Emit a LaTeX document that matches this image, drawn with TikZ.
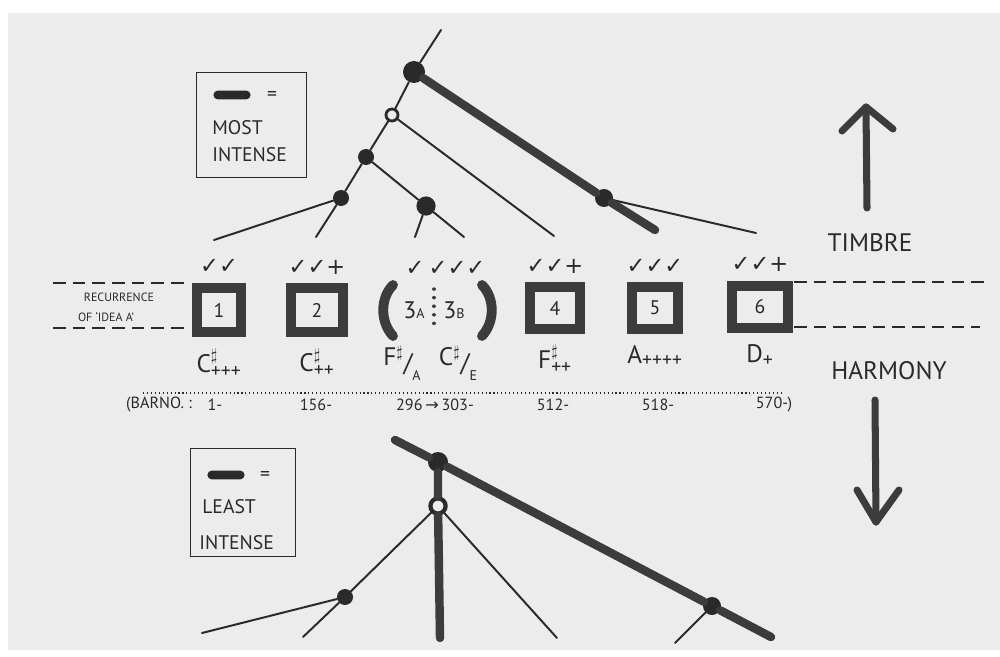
\documentclass[tikz,border=0pt]{standalone}
\usepackage{fontspec}
\setmainfont{PT Sans}
\newfontfamily\ticks{DejaVu Sans}
\usetikzlibrary{positioning}
\definecolor{paper}{HTML}{ECECEC}
\definecolor{ink}{HTML}{2A2A2A}
\definecolor{marker}{HTML}{3C3C3C}
\tikzset{
  twig/.style   = {draw=ink, line width=1.4pt, line cap=round},
  branch/.style = {draw=marker, line width=6pt, line cap=round},
  dot/.style    = {circle, fill=ink, inner sep=0pt, minimum size=0.4cm},
  ring/.style   = {circle, draw=ink, fill=paper, line width=2pt, inner sep=0pt, minimum size=0.3cm},
  idea/.style   = {draw=marker, line width=0.25cm, minimum width=1.25cm, minimum height=1.1cm,
                   inner sep=0pt, text=ink, font=\fontsize{14}{14}\selectfont},
  legend/.style = {draw=ink, line width=1.2pt, minimum width=2.75cm, minimum height=2.62cm},
  pill/.style   = {fill=ink, rounded corners=0.11cm, minimum width=0.93cm, minimum height=0.22cm, inner sep=0pt},
  hand/.style   = {text=ink, inner sep=0pt, font=\fontsize{14}{16}\selectfont},
  big/.style    = {text=ink, inner sep=0pt, font=\fontsize{18}{20}\selectfont},
  small/.style  = {text=ink, inner sep=0pt, font=\fontsize{8.5}{10}\selectfont},
  tick/.style   = {text=ink, inner sep=0pt, font=\ticks\fontsize{16}{17}\selectfont},
  chord/.style  = {text=ink, inner sep=0pt, font=\fontsize{18}{20}\selectfont},
  bar/.style    = {text=ink, inner sep=0pt, font=\fontsize{11.5}{13}\selectfont},
  guide/.style  = {draw=ink, line width=0.9pt, dash pattern=on 9pt off 5pt},
  arrowline/.style = {draw=marker, line width=5pt, line cap=round, line join=round}
}
\newcommand{\pl}[1]{\hbox{\fontsize{14}{14}\selectfont #1}}

\begin{document}
\begin{tikzpicture}
[x=0.025cm, y=-0.025cm]

% paper
\fill[white] (0,0) rectangle (1000,657);
\fill[paper] (8,13) rectangle (1000,650);
\useasboundingbox (0,0) rectangle (1000,657);

% legend, most intense
\node[legend] (lg1) at (251.5,125) {};
\node[pill] (lg1p) at (232,95) {};
\node[hand] (lg1e) at (272,96) {=};
\node[hand, anchor=west] (lg1a) at (212,128) {MOST};
\node[hand, anchor=west] (lg1b) at (212,155) {INTENSE};

% legend, least intense
\node[legend, minimum width=2.62cm, minimum height=2.7cm] (lg2) at (243,502.5) {};
\node[pill] (lg2p) at (226,475) {};
\node[hand] (lg2e) at (265,476) {=};
\node[hand, anchor=west] (lg2a) at (202,507) {LEAST};
\node[hand, anchor=west] (lg2b) at (199,543) {INTENSE};

% timbre tree, top
\coordinate (t0) at (441,30);
\node[dot, minimum size=0.55cm] (t1) at (414,72) {};
\node[ring] (t2) at (392,115) {};
\node[dot] (t3) at (366,157) {};
\node[dot] (t4) at (341,198) {};
\node[dot, minimum size=0.48cm] (t5) at (426,206) {};
\node[dot, minimum size=0.45cm] (t6) at (604,198) {};
\coordinate (t41) at (214,240);
\coordinate (t42) at (316,237);
\coordinate (t51) at (415,237);
\coordinate (t52) at (464,237);
\coordinate (t21) at (554,236);
\coordinate (t61) at (655,230);
\coordinate (t62) at (756,233);

\draw[twig] (t0) -- (t1) -- (t2) -- (t3) -- (t4) -- (t42);
\draw[twig] (t4) -- (t41);
\draw[twig] (t3) -- (t5) -- (t52);
\draw[twig] (t5) -- (t51);
\draw[twig] (t2) -- (t21);
\draw[twig] (t6) -- (t62);
\draw[branch] (t1) -- (t6) -- (t61);

% harmony tree, bottom
\coordinate (h0) at (395,440);
\node[dot, minimum size=0.5cm] (h1) at (438,462) {};
\node[ring, minimum size=0.38cm, line width=3pt] (h2) at (438,506) {};
\node[dot] (h3) at (345,597) {};
\node[dot, minimum size=0.45cm] (h4) at (712,606) {};
\coordinate (h11) at (771,637);
\coordinate (h21) at (440,638);
\coordinate (h22) at (557,638);
\coordinate (h31) at (303,637);
\coordinate (h32) at (202,633);
\coordinate (h41) at (675,643);

\draw[twig] (h2) -- (h3) -- (h31);
\draw[twig] (h3) -- (h32);
\draw[twig] (h2) -- (h22);
\draw[twig] (h4) -- (h41);
\draw[branch] (h0) -- (h1) -- (h4) -- (h11);
\draw[branch] (h1) -- (h2) -- (h21);

% recurrences of idea A
\node[idea, minimum width=1.1cm, minimum height=1.12cm] (i1) at (219,310) {1};
\node[idea, minimum width=1.3cm] (i2) at (317,310) {2};
\node[hand, font=\fontsize{17}{17}\selectfont] (i3a) at (414,310) {3{\fontsize{10}{10}\selectfont A}};
\node[hand, font=\fontsize{17}{17}\selectfont] (i3b) at (454,310) {3{\fontsize{10}{10}\selectfont B}};
\node[idea, minimum height=1.03cm] (i4) at (555,308) {4};
\node[idea, minimum width=1.15cm, minimum height=1.03cm] (i5) at (655,308) {5};
\node[idea, minimum width=1.38cm, minimum height=1.07cm] (i6) at (760,307) {6};
\draw[marker, line width=2.4pt, line cap=round, dash pattern=on 0.1pt off 6pt] (434,289) -- (434,330);
\draw[marker, line width=7pt, line cap=round] (393,285) .. controls (380,298) and (380,322) .. (393,336);
\draw[marker, line width=7pt, line cap=round] (482,285) .. controls (495,298) and (495,322) .. (482,336);

% guide lines
\draw[guide] (53,283) -- (190,283);
\draw[guide] (53,328) -- (190,328);
\draw[guide] (794,282) -- (985,282);
\draw[guide] (794,327) -- (980,327);
\node[small] (rec1) at (119,297) {RECURRENCE};
\node[small] (rec2) at (106,317) {OF `IDEA A'};

% timbre marks
\node[tick, above=6pt of i1] (k1) {✓✓};
\node[tick, above=6pt of i2] (k2) {✓✓+};
\node[tick] (k3a) at (415,268) {✓};
\node[tick] (k3b) at (457,268) {✓✓✓};
\node[tick, above=6pt of i4] (k4) {✓✓+};
\node[tick, above=6pt of i5] (k5) {✓✓✓};
\node[tick, above=6pt of i6] (k6) {✓✓+};

% harmony labels
\node[chord, below=8pt of i1] (c1) {C$^{\sharp}_{\pl{+++}}$};
\node[chord, below=8pt of i2] (c2) {C$^{\sharp}_{\pl{++}}$};
\node[chord] (c3a) at (402,363) {\raisebox{.45ex}{F$^{\sharp}$}/\raisebox{-.7ex}{\fontsize{10}{10}\selectfont A}};
\node[chord] (c3b) at (458,363) {\raisebox{.45ex}{C$^{\sharp}$}/\raisebox{-.7ex}{\fontsize{10}{10}\selectfont E}};
\node[chord, below=8pt of i4] (c4) {F$^{\sharp}_{\pl{++}}$};
\node[chord, below=8pt of i5] (c5) {A$_{\pl{++++}}$};
\node[chord, below=8pt of i6] (c6) {D$_{\pl{+}}$};

% bar numbers
\draw[ink, line width=0.8pt, dotted] (143,393) -- (783,393);
\node[bar] (n0) at (159,405) {(BARNO. :};
\node[bar] (n1) at (215,405) {1-};
\node[bar] (n2) at (316,405) {156-};
\node[bar] (n3) at (435,405) {296\,{\ticks→}\,303-};
\node[bar] (n4) at (553,405) {512-};
\node[bar] (n5) at (658,405) {518-};
\node[bar] (n6) at (774,405) {570-)};

% axes
\node[big] (timbre) at (870,243) {TIMBRE};
\node[big] (harmony) at (889,371) {HARMONY};
\coordinate (up0) at (867,208);
\coordinate (up1) at (866,107);
\coordinate (dn0) at (875,400);
\coordinate (dn1) at (876,522);
\draw[arrowline] (up0) -- (up1);
\draw[arrowline] (842,131) -- (up1) -- (893,129);
\draw[arrowline] (dn0) -- (dn1);
\draw[arrowline] (857,490) -- (dn1) -- (899,490);

\end{tikzpicture}
\end{document}
